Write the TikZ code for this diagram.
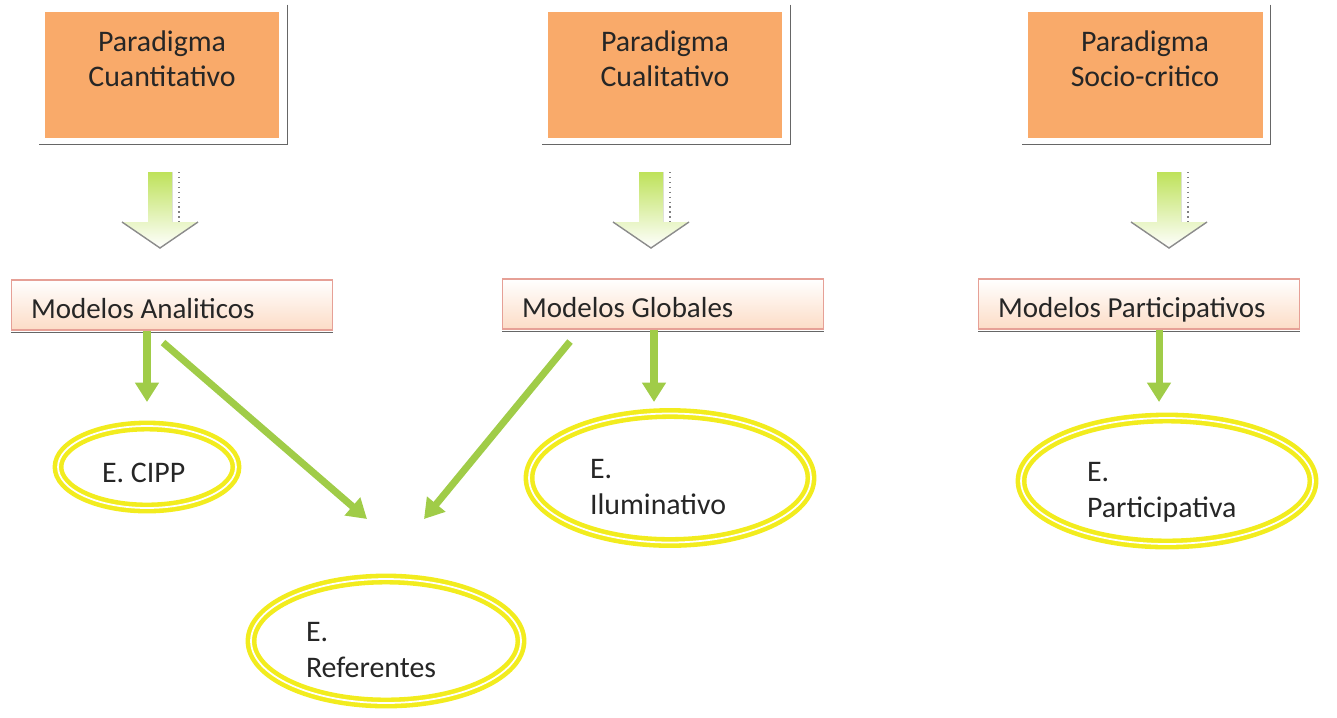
\documentclass[tikz,border=0pt]{standalone}
\usepackage{fontspec}
\setmainfont{Carlito}
\usetikzlibrary{positioning, arrows.meta, calc, shapes.geometric}

\definecolor{boxorange}{RGB}{249,170,106}
\definecolor{modelpeach}{RGB}{252,220,198}
\definecolor{modelline}{RGB}{230,160,150}
\definecolor{linkgreen}{RGB}{160,204,72}
\definecolor{shaftgreen}{RGB}{190,226,90}
\definecolor{ringyellow}{RGB}{242,236,30}

\tikzset{
  paradigm/.style={fill=boxorange, minimum width=4.7cm, minimum height=2.52cm, inner sep=2pt,
    align=center, text height=30pt, text depth=17pt, text=black!85, font=\fontsize{17}{20}\selectfont},
  model/.style={draw=modelline, line width=0.6pt, top color=white, bottom color=modelpeach,
    minimum width=6.42cm, minimum height=1cm, text width=5.64cm, inner xsep=0.39cm,
    align=flush left, text height=15pt, text depth=0pt, text=black!85, font=\fontsize{16.5}{20}\selectfont},
  evalring/.style={ellipse, draw=ringyellow, double=white, double distance=1pt, line width=2.6pt,
    inner sep=1pt, text width=3.2cm, align=flush left, text height=21pt, text depth=21pt,
    text=black!85, font=\fontsize{17}{21}\selectfont},
  conn/.style={-{Triangle[width=13pt,length=11pt]}, line width=4pt, draw=linkgreen},
  boxshadow/.style={draw=black!60, line width=0.7pt},
}

\begin{document}
\begin{tikzpicture}[x=0.02cm, y=-0.02cm]
    \useasboundingbox (0,0) rectangle (1337,717);

    \node[paradigm] (p1) at (162,75)  {Paradigma\\Cuantitativo};
    \node[paradigm] (p2) at (665,75)  {Paradigma\\Cualitativo};
    \node[paradigm] (p3) at (1145,75) {Paradigma\\Socio-critico};
    \foreach \n in {p1,p2,p3}
        \draw[boxshadow] ($(\n.north east)+(8,-7)$) |- ($(\n.south west)+(-5,6)$);

    \foreach \x in {160,651,1169} {
        \fill[top color=shaftgreen, bottom color=white]
            (\x-12,172) -- (\x+12,172) -- (\x+12,222) -- (\x+38,222) -- (\x,248)
            -- (\x-38,222) -- (\x-12,222) -- cycle;
        \draw[black!45, line width=0.8pt] (\x-38,222) -- (\x,248) -- (\x+38,222);
        \draw[black!50, dotted, line width=0.8pt] (\x+19,172) -- (\x+19,222);
    }

    \node[model] (m1) at (172,305)  {Modelos Analiticos};
    \node[model] (m2) at (663,304)  {Modelos Globales};
    \node[model] (m3) at (1139,304) {Modelos Participativos};
    \foreach \n in {m1,m2,m3}
        \draw[boxshadow] ($(\n.south west)+(0,2)$) -- ($(\n.south east)+(0,2)$);

    \node[evalring, minimum width=3.56cm, minimum height=1.64cm, text width=1.8cm,
        text height=18pt, text depth=0pt] (e1) at (147,467) {E. CIPP};
    \node[evalring, minimum width=5.64cm, minimum height=2.58cm] (e2) at (670,478)  {E.\\Iluminativo};
    \node[evalring, minimum width=5.84cm, minimum height=2.52cm] (e3) at (1167,481) {E.\\Participativa};
    \node[evalring, minimum width=5.4cm,  minimum height=2.48cm] (e4) at (386,641)  {E.\\Referentes};

    \coordinate (t1) at (147,402);
    \coordinate (t2) at (654,402);
    \coordinate (t3) at (1159,402);
    \coordinate (r1) at (367,519);
    \coordinate (r2) at (424,519);

    \draw[conn] (m1.south -| t1) -- (t1);
    \draw[conn] ($(m1.south)+(-9,12)$) -- (r1);
    \draw[conn] ($(m2.south)+(-93,12)$) -- (r2);
    \draw[conn] (m2.south -| t2) -- (t2);
    \draw[conn] (m3.south -| t3) -- (t3);
\end{tikzpicture}
\end{document}
